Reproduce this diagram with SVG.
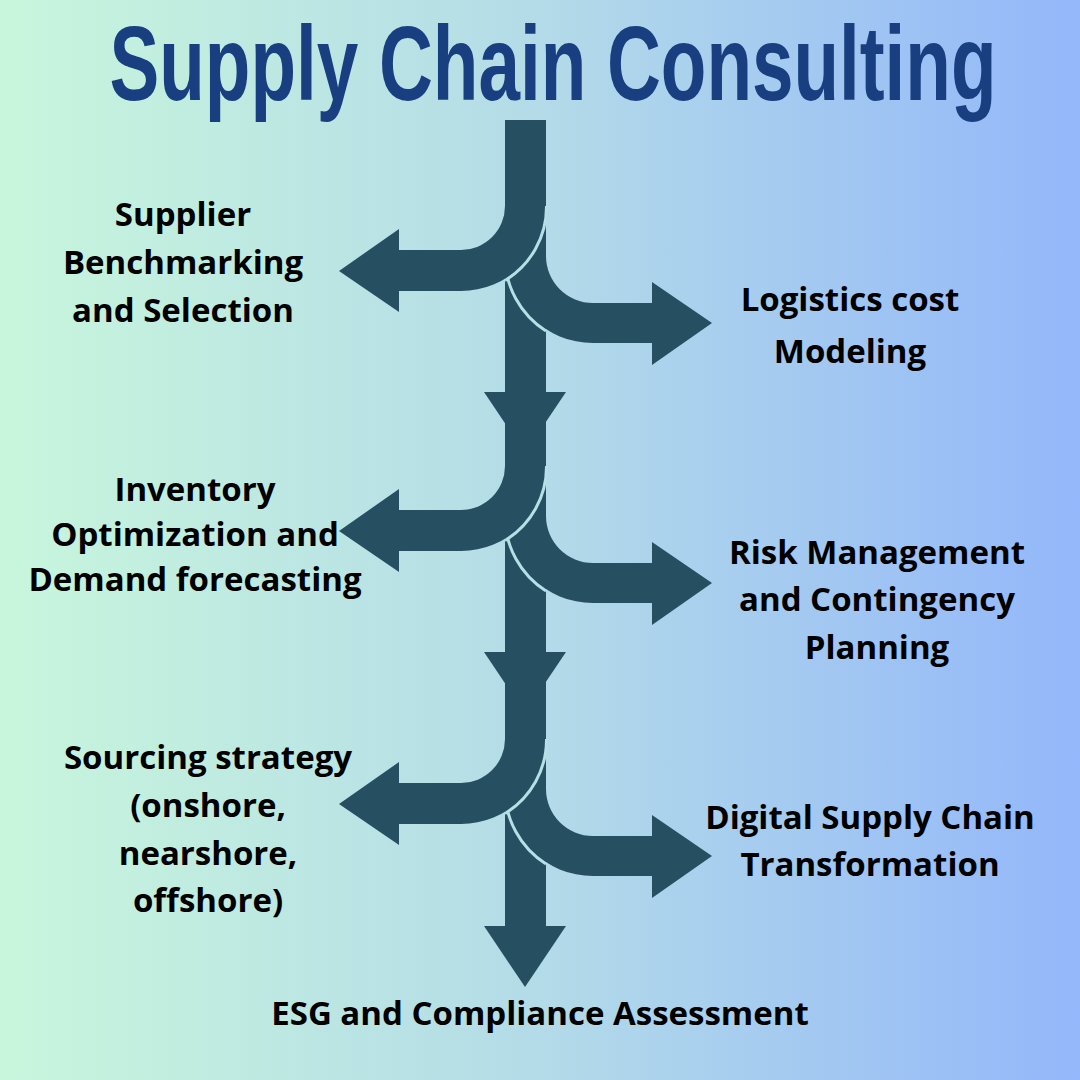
<svg xmlns="http://www.w3.org/2000/svg" width="1080" height="1080" viewBox="0 0 1080 1080">
<defs>
<linearGradient id="bg" x1="0" y1="0" x2="1" y2="0">
<stop offset="0" stop-color="#c8f6dc"/>
<stop offset="0.5" stop-color="#b3dbe8"/>
<stop offset="1" stop-color="#93b7fa"/>
</linearGradient>
<style>
.a{fill:#274f62}
.g{fill:none;stroke:#b6dfe7;stroke-width:3}
.t{font-family:"Open Sans","Noto Sans",sans-serif;font-weight:bold;font-size:33px;fill:#000;text-anchor:middle}
</style>
<g id="blk">
<path class="a" d="M546,-34 L546,-15 A47,47 0 0 0 593,32 L652,32 L652,11 L712,52 L652,94 L652,72 L593,72 A87,87 0 0 1 506,-15 Z"/>
<path class="g" d="M505,-15 A88.5,88.5 0 0 0 546,60"/>
<path class="a" d="M505,-65 A44,44 0 0 1 461,-21 L399,-21 L399,-42 L339,0 L399,41 L399,20 L461,20 A85,85 0 0 0 546,-65 Z"/>
<path class="g" d="M546.5,-65 A86.5,86.5 0 0 1 505,9.5"/>
</g>
</defs>
<rect width="1080" height="1080" fill="url(#bg)"/>
<text x="553" y="100" textLength="887" lengthAdjust="spacingAndGlyphs" style="font-family:'Liberation Sans',sans-serif;font-weight:bold;font-size:106px;fill:#1a3f80;text-anchor:middle">Supply Chain Consulting</text>
<g id="connectors">
<rect class="a" x="505" y="120" width="41" height="810"/>
<polygon class="a" points="484,392 566,392 525,453"/>
<polygon class="a" points="484,652 566,652 525,713"/>
<polygon class="a" points="484,926 566,926 525,987"/>
<use href="#blk" transform="translate(0,271)"/>
<use href="#blk" transform="translate(0,531)"/>
<use href="#blk" transform="translate(0,804)"/>
</g>
<g id="n1"><text class="t" x="183" y="226">Supplier</text><text class="t" x="183" y="274">Benchmarking</text><text class="t" x="183" y="322">and Selection</text></g>
<g id="n2"><text class="t" x="850" y="311">Logistics cost</text><text class="t" x="850" y="363">Modeling</text></g>
<g id="n3"><text class="t" x="195" y="501">Inventory</text><text class="t" x="195" y="546">Optimization and</text><text class="t" x="195" y="591">Demand forecasting</text></g>
<g id="n4"><text class="t" x="877" y="564">Risk Management</text><text class="t" x="877" y="611">and Contingency</text><text class="t" x="877" y="659">Planning</text></g>
<g id="n5"><text class="t" x="208" y="769">Sourcing strategy</text><text class="t" x="208" y="817">(onshore,</text><text class="t" x="208" y="865">nearshore,</text><text class="t" x="208" y="912">offshore)</text></g>
<g id="n6"><text class="t" x="870" y="829">Digital Supply Chain</text><text class="t" x="870" y="876">Transformation</text></g>
<g id="n7"><text class="t" x="540" y="1025">ESG and Compliance Assessment</text></g>
</svg>
